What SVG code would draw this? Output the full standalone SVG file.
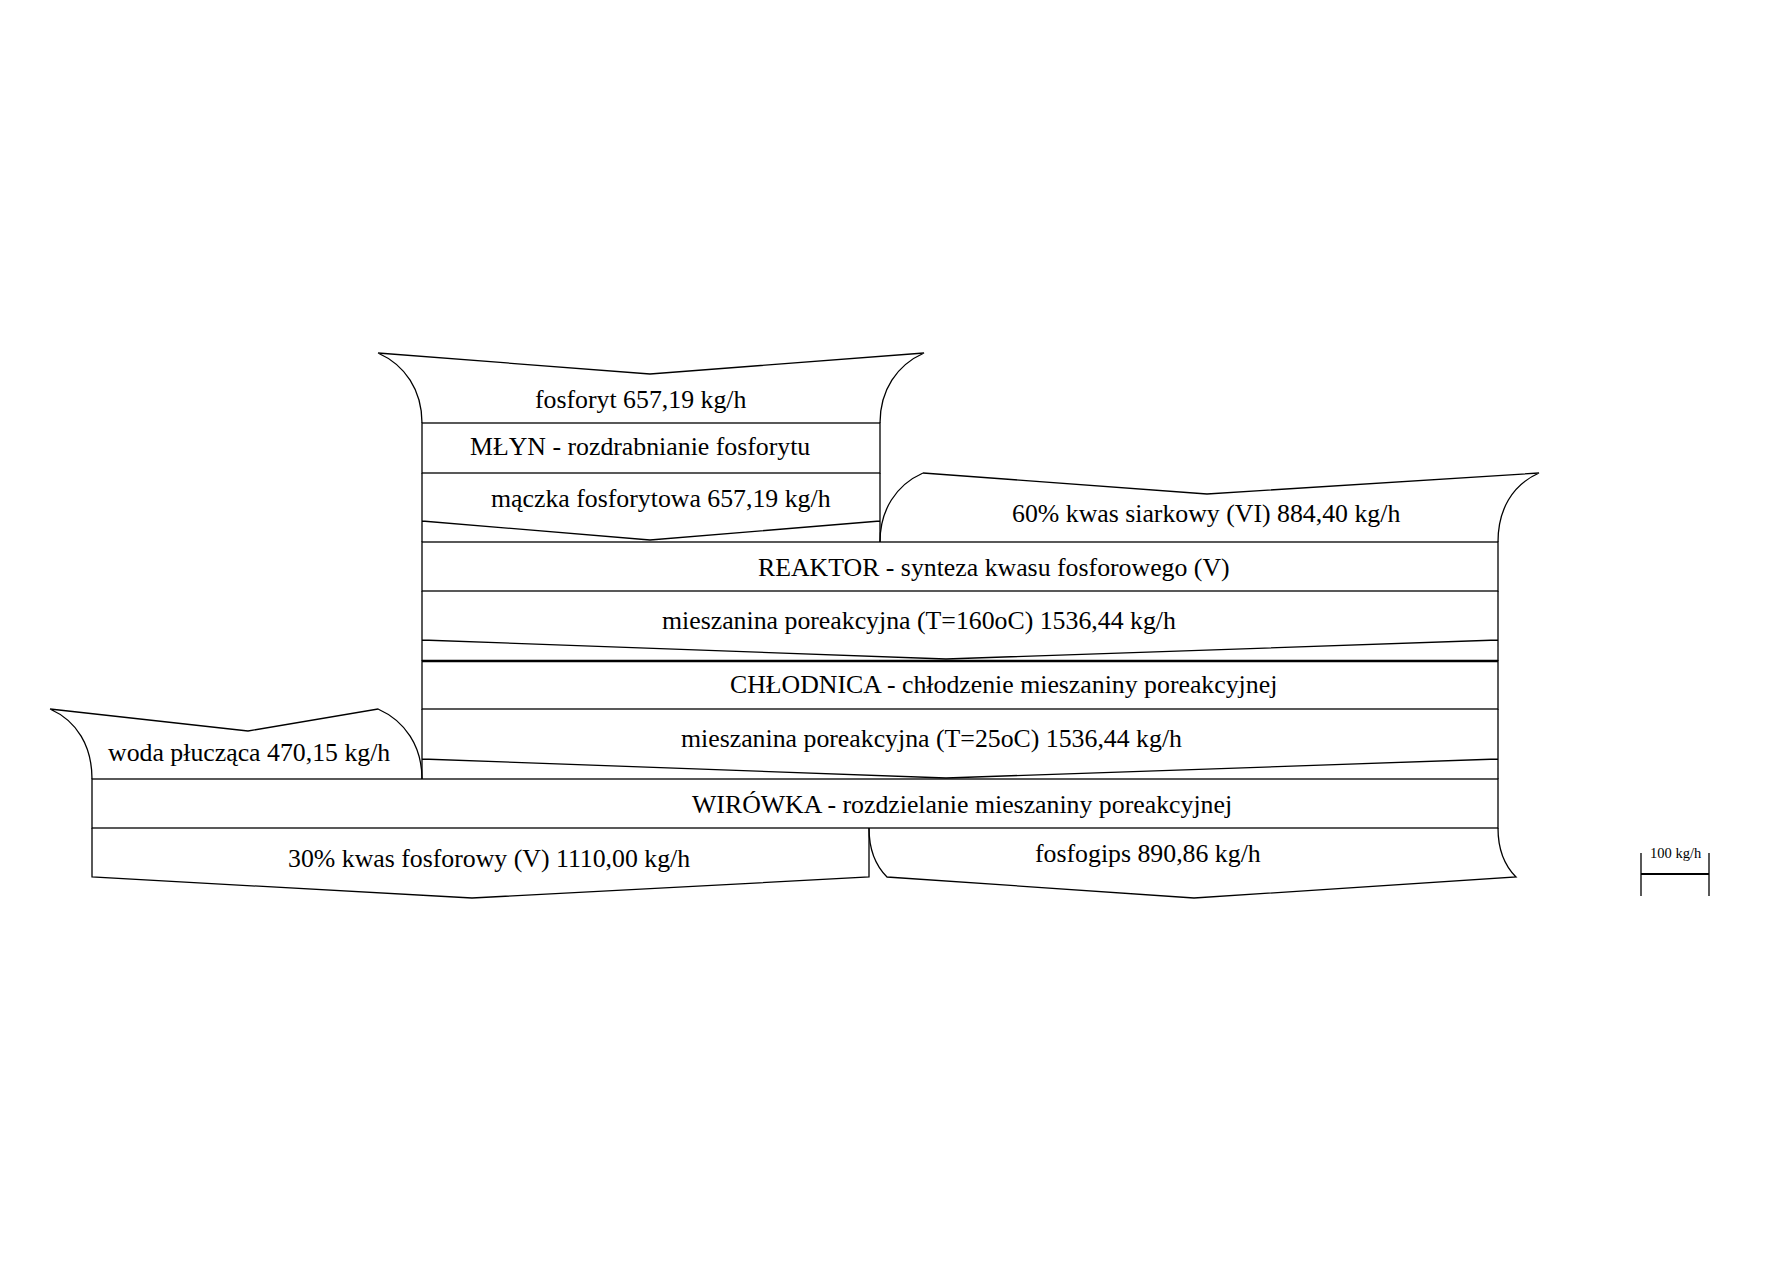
<svg xmlns="http://www.w3.org/2000/svg" width="1787" height="1263" viewBox="0 0 1787 1263">
<style>
.ln{fill:none;stroke:#000;stroke-width:1.3;stroke-linejoin:miter}
.thick{fill:none;stroke:#000;stroke-width:2.4}
.t{font-family:"Liberation Serif","Times New Roman",serif;font-size:25.8px;fill:#000}
.s{font-family:"Liberation Serif","Times New Roman",serif;font-size:14.5px;fill:#000}
</style>
<rect width="1787" height="1263" fill="#fff"/>
<g id="connectors">
  <g id="flow-fosforyt">
    <path class="ln" d="M378,353 L650,374 L924,353 C897,365 880,390 880,423 M378,353 C405,365 422,390 422,423"/>
    <text class="t" x="535" y="408">fosforyt 657,19 kg/h</text>
  </g>
  <g id="flow-maczka">
    <path class="ln" d="M422,473 V542 M880,473 V542 M422,521 L650,540 L880,521"/>
    <text class="t" x="491" y="507">mączka fosforytowa 657,19 kg/h</text>
  </g>
  <g id="flow-kwas-siarkowy">
    <path class="ln" d="M923,473 L1207,494 L1539,473 C1512,485 1498,510 1498,542 M923,473 C896,485 880,510 880,542"/>
    <text class="t" x="1012" y="522">60% kwas siarkowy (VI) 884,40 kg/h</text>
  </g>
  <g id="flow-mieszanina-160">
    <path class="ln" d="M422,591 V661 M1498,591 V661 M422,640 L946,659 L1498,640"/>
    <text class="t" x="662" y="629">mieszanina poreakcyjna (T=160oC) 1536,44 kg/h</text>
  </g>
  <g id="flow-mieszanina-25">
    <path class="ln" d="M422,709 V779 M1498,709 V779 M422,759 L946,778 L1498,759"/>
    <text class="t" x="681" y="747">mieszanina poreakcyjna (T=25oC) 1536,44 kg/h</text>
  </g>
  <g id="flow-woda">
    <path class="ln" d="M50,709 L248,731 L378,709 C405,721 422,746 422,779 M50,709 C77,721 92,746 92,779"/>
    <text class="t" x="108" y="761">woda płucząca 470,15 kg/h</text>
  </g>
  <g id="flow-kwas-fosforowy">
    <path class="ln" d="M92,828 L92,877 L472,898 L869,877 L869,828"/>
    <text class="t" x="288" y="867">30% kwas fosforowy (V) 1110,00 kg/h</text>
  </g>
  <g id="flow-fosfogips">
    <path class="ln" d="M869,828 C869,850 876,866 887,877 L1194,898 L1516,877 C1505,866 1498,850 1498,828"/>
    <text class="t" x="1035" y="862">fosfogips 890,86 kg/h</text>
  </g>
</g>
<g id="mlyn">
  <rect class="ln" x="422" y="423" width="458" height="50"/>
  <text class="t" x="470" y="455">MŁYN - rozdrabnianie fosforytu</text>
</g>
<g id="reaktor">
  <rect class="ln" x="422" y="542" width="1076" height="49"/>
  <text class="t" x="758" y="576">REAKTOR - synteza kwasu fosforowego (V)</text>
</g>
<g id="chlodnica">
  <rect class="ln" x="422" y="661" width="1076" height="48"/>
  <line class="thick" x1="422" y1="661" x2="1498" y2="661"/>
  <text class="t" x="730" y="693">CHŁODNICA - chłodzenie mieszaniny poreakcyjnej</text>
</g>
<g id="wirowka">
  <rect class="ln" x="92" y="779" width="1406" height="49"/>
  <text class="t" x="692" y="813">WIRÓWKA - rozdzielanie mieszaniny poreakcyjnej</text>
</g>
<g id="scale">
  <path class="ln" d="M1641,853 V896 M1709,853 V896"/>
  <line x1="1641" y1="874" x2="1709" y2="874" stroke="#000" stroke-width="2.2"/>
  <text class="s" x="1650" y="858">100 kg/h</text>
</g>
</svg>
